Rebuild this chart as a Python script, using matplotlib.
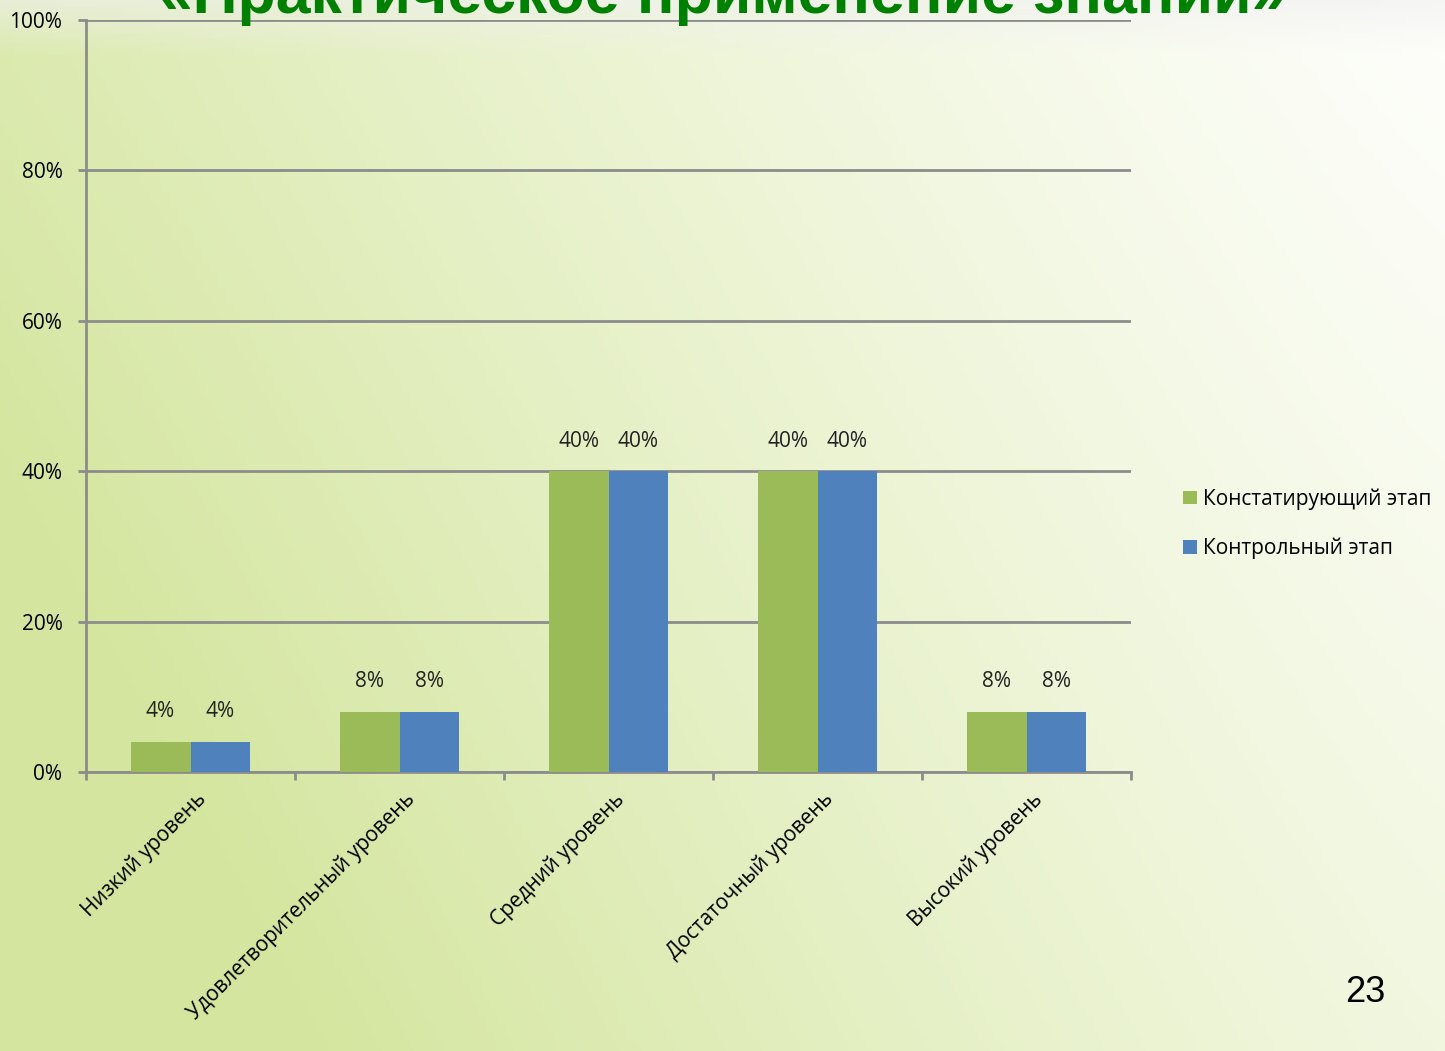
import numpy as np
import matplotlib.pyplot as plt
from matplotlib import transforms

plt.switch_backend("Agg")
plt.rcParams['font.family'] = ['Open Sans', 'DejaVu Sans']

categories = ["Низкий уровень", "Удовлетворительный уровень", "Средний уровень",
              "Достаточный уровень", "Высокий уровень"]
series_names = ["Констатирующий этап", "Контрольный этап"]
stage1 = [4, 8, 40, 40, 8]
stage2 = [4, 8, 40, 40, 8]
yticks = [0, 20, 40, 60, 80, 100]
title = "«Практическое применение знаний»"
page_no = "23"

colors = ["#9bbb59", "#4f81bd"]
FS = 15

fig = plt.figure(figsize=(14.45, 10.51), dpi=100)
W, H = 1445, 1051

# фон: зелёный слева, белый справа вверху
bg = fig.add_axes([0, 0, 1, 1], zorder=0)
xx, yy = np.meshgrid(np.linspace(0, 1, 300), np.linspace(0, 1, 220))
t = np.clip(0.8 * (1 - xx) ** 1.2 + 0.3 * yy * (1 - 0.4 * xx) + 0.12 * yy, 0, 1)
white = np.array([0.995, 0.997, 0.985])
green = np.array([0.83, 0.90, 0.62])
img = white + (green - white) * t[..., None]
# светло-серая полоса под заголовком
band = np.clip(1 - yy / 0.05, 0, 1)[..., None] * 0.6
img = img * (1 - band) + np.array([0.94, 0.94, 0.94]) * band
bg.imshow(img, aspect='auto', extent=[0, 1, 0, 1], origin='upper')
bg.axis('off')

ax = fig.add_axes([86 / W, 1 - 772 / H, (1131 - 86) / W, (772 - 20) / H], zorder=1)
ax.patch.set_alpha(0)

x = np.arange(len(categories))
bw = 0.287
b1 = ax.bar(x - bw / 2, stage1, bw, color=colors[0], label=series_names[0], zorder=3)
b2 = ax.bar(x + bw / 2, stage2, bw, color=colors[1], label=series_names[1], zorder=3)

for bars in (b1, b2):
    for r in bars:
        ax.text(r.get_x() + r.get_width() / 2, r.get_height() + 2.6, f"{int(r.get_height())}%",
                ha='center', va='bottom', fontsize=FS, color='#222222', zorder=4)

ax.set_xlim(-0.5, len(categories) - 0.5)
ax.set_ylim(0, 100)
ax.set_yticks(yticks)
ax.set_yticklabels([f"{v}%" for v in yticks], fontsize=FS)
ax.yaxis.grid(True, color='#8c8c8c', linewidth=2, zorder=1)
ax.set_axisbelow(True)

ax.set_xticks(np.arange(len(categories) + 1) - 0.5)
ax.set_xticklabels([])
ax.set_xticks(x, minor=True)
ax.set_xticklabels(categories, minor=True, rotation=45, ha='right',
                   rotation_mode='anchor', fontsize=FS)
ax.tick_params(axis='x', which='minor', length=0, pad=12)
ax.tick_params(axis='x', which='major', length=6, width=2, color='#8c8c8c')
ax.tick_params(axis='y', length=6, width=2, color='#8c8c8c', pad=11)
for lbl in ax.get_xticklabels(minor=True):
    lbl.set_transform(lbl.get_transform() + transforms.ScaledTranslation(0.05, 0, fig.dpi_scale_trans))

for s in ['top', 'right']:
    ax.spines[s].set_visible(False)
for s in ['left', 'bottom']:
    ax.spines[s].set_color('#8c8c8c')
    ax.spines[s].set_linewidth(2)

ax.legend(loc='center left', bbox_to_anchor=(1.05, 0.33), frameon=False, fontsize=FS,
          handlelength=0.65, handleheight=0.65, handletextpad=0.3, labelspacing=1.35,
          borderaxespad=0, borderpad=0)

fig.text(0.5, 1.0 - 13 / H, title, ha='center', va='baseline', fontsize=45,
         fontweight='bold', color='#008000', family='Liberation Sans')
fig.text(1365 / W, 1 - 993 / H, page_no, ha='center', va='center', fontsize=26,
         family='Liberation Sans', color='black')

fig.savefig("out.png", dpi=100)
